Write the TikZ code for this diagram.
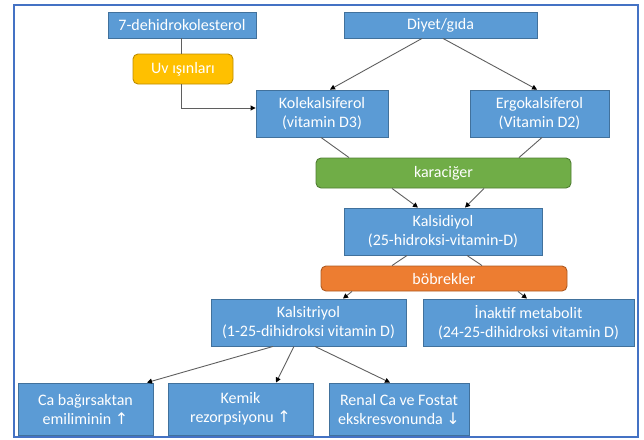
\documentclass[tikz,border=0pt]{standalone}
\usepackage{fontspec}
\setmainfont{Carlito}
\newfontfamily\arrowfont{DejaVu Sans}
\definecolor{boxblue}{RGB}{91, 155, 213}
\definecolor{boxblueline}{RGB}{65, 113, 156}
\definecolor{uvyellow}{RGB}{255, 192, 0}
\definecolor{uvyellowline}{RGB}{188, 140, 0}
\definecolor{livergreen}{RGB}{112, 173, 71}
\definecolor{livergreenline}{RGB}{80, 126, 50}
\definecolor{kidneyorange}{RGB}{237, 125, 49}
\definecolor{kidneyorangeline}{RGB}{174, 90, 33}
\definecolor{frameblue}{RGB}{68, 114, 196}
\definecolor{linkgray}{RGB}{95, 95, 95}
\usepackage{tikz}
\usetikzlibrary{arrows.meta, positioning}

\tikzset{
  stepbox/.style={draw=boxblueline, fill=boxblue, line width=0.9pt, text=white,
    align=center, inner sep=0pt, font=\fontsize{16}{19}\selectfont},
  organbox/.style={stepbox, rounded corners=5pt},
  link/.style={draw=linkgray, line width=0.9pt},
  flow/.style={link, -{Triangle[length=5pt, width=5pt, color=black]}}
}
\newcommand{\upar}{{\arrowfont\fontsize{16}{19}\selectfont ↑}}
\newcommand{\downar}{{\arrowfont\fontsize{16}{19}\selectfont ↓}}

\begin{document}
\begin{tikzpicture}[x=1pt, y=-1pt]
  \useasboundingbox (0, 0) rectangle (644, 439);
  \draw[frameblue, line width=1.5pt] (14, 5) rectangle (638, 437);

  % Sources
  \node[stepbox, minimum width=148pt, minimum height=26pt] (dhc) at (182, 25) {7-dehidrokolesterol};
  \node[stepbox, minimum width=193pt, minimum height=26pt] (diet) at (440.5, 25) {Diyet/gıda};
  \node[organbox, draw=uvyellowline, fill=uvyellow, minimum width=100pt, minimum height=30pt] (uv) at (183, 69) {Uv ışınları};

  % Vitamin D3 and D2
  \node[stepbox, minimum width=132pt, minimum height=47pt] (kole) at (322, 113.5) {Kolekalsiferol\\(vitamin D3)};
  \node[stepbox, minimum width=139pt, minimum height=47pt] (ergo) at (539.5, 113.5) {Ergokalsiferol\\(Vitamin D2)};

  % Liver step
  \node[organbox, draw=livergreenline, fill=livergreen, minimum width=255pt, minimum height=30pt] (liver) at (443.5, 173) {karaciğer};
  \node[stepbox, minimum width=198pt, minimum height=47pt] (kalsid) at (443, 231.5) {Kalsidiyol\\(25-hidroksi-vitamin-D)};

  % Kidney step
  \node[organbox, draw=kidneyorangeline, fill=kidneyorange, minimum width=246pt, minimum height=25pt] (kidney) at (444, 278.5) {böbrekler};
  \node[stepbox, minimum width=195pt, minimum height=47pt] (kalsit) at (308.5, 322.5) {Kalsitriyol\\(1-25-dihidroksi vitamin D)};
  \node[stepbox, minimum width=211pt, minimum height=47pt] (inakt) at (528.5, 322.5) {İnaktif metabolit\\(24-25-dihidroksi vitamin D)};

  % Effects
  \node[stepbox, minimum width=135pt, minimum height=52pt] (ca) at (85.5, 409) {Ca bağırsaktan\\emiliminin \upar};
  \node[stepbox, minimum width=145pt, minimum height=52pt] (kemik) at (240.5, 409) {Kemik\\rezorpsiyonu \upar};
  \node[stepbox, minimum width=140pt, minimum height=52pt] (renal) at (399, 409) {Renal Ca ve Fostat\\ekskresvonunda \downar};

  % Connectors
  \draw[link] ([xshift=-1pt]dhc.south) -- ([xshift=-2pt]uv.north);
  \draw[flow] ([xshift=-2pt]uv.south) |- ([yshift=5.5pt]kole.west);
  \draw[flow] ([xshift=-18.5pt]diet.south) -- ([xshift=8pt]kole.north);
  \draw[flow] ([xshift=2.5pt]diet.south) -- ([xshift=-2.5pt]ergo.north);
  \draw[link] ([xshift=-1pt]kole.south) -- ([xshift=-94.5pt]liver.north);
  \draw[link] ([xshift=2.5pt]ergo.south) -- ([xshift=75.5pt]liver.north);
  \draw[flow] ([xshift=-51.5pt]liver.south) -- ([xshift=-25pt]kalsid.north);
  \draw[flow] ([xshift=40.5pt]liver.south) -- ([xshift=22pt]kalsid.north);
  \draw[link] ([xshift=-36pt]kalsid.south) -- ([xshift=-52pt]kidney.north);
  \draw[link] ([xshift=24pt]kalsid.south) -- ([xshift=38pt]kidney.north);
  \draw[flow] ([xshift=-92pt]kidney.south) -- ([xshift=34.5pt]kalsit.north);
  \draw[flow] ([xshift=74pt]kidney.south) -- ([xshift=-1.5pt]inakt.north);
  \draw[flow] ([xshift=-35.5pt]kalsit.south) -- ([xshift=61.5pt]ca.north);
  \draw[flow] ([xshift=-14.5pt]kalsit.south) -- ([xshift=35.5pt]kemik.north);
  \draw[flow] ([xshift=6.5pt]kalsit.south) -- ([xshift=-9pt]renal.north);
\end{tikzpicture}
\end{document}
